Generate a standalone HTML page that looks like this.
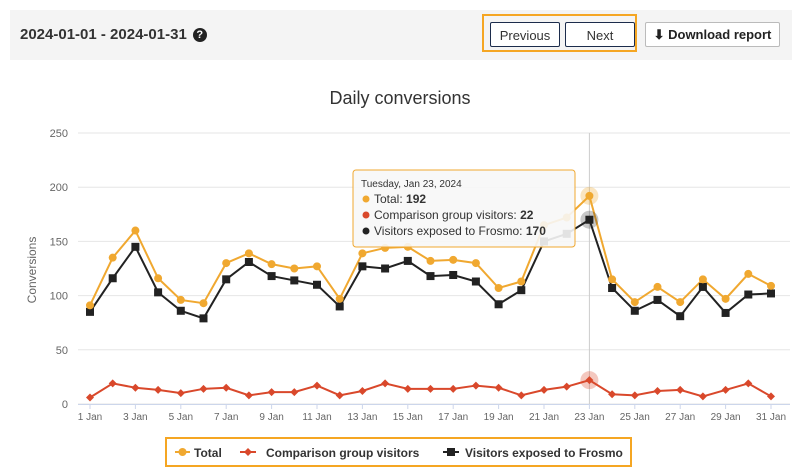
<!DOCTYPE html>
<html><head><meta charset="utf-8"><style>
body{margin:0;width:800px;height:470px;background:#fff;font-family:"Liberation Sans",sans-serif;overflow:hidden;position:relative}
.hdr{position:absolute;left:10px;top:10px;width:782px;height:50px;background:#f4f4f4}
.date{position:absolute;left:20px;top:26px;font-size:15px;font-weight:bold;color:#333}
.q{display:inline-block;width:14px;height:14px;border-radius:50%;background:#222;color:#fff;font-size:11px;text-align:center;line-height:14px;margin-left:6px;vertical-align:1px}
.ob{position:absolute;left:482px;top:14px;width:155px;height:38px;border:2px solid #f5a623;box-sizing:border-box}
.btn{position:absolute;top:22px;height:25px;border:1px solid #1c2c4c;border-radius:2px;background:#fff;font-size:13px;color:#333;text-align:center;line-height:25px;box-sizing:border-box}
.dl{position:absolute;left:645px;top:22px;width:135px;height:25px;border:1px solid #bbb;border-radius:2px;background:#fff;font-size:13px;font-weight:bold;color:#222;line-height:23px;text-align:center;box-sizing:border-box}
.title{position:absolute;left:0;width:800px;top:88px;text-align:center;font-size:18px;color:#333}
</style></head><body>
<div class="hdr"></div>
<div class="date">2024-01-01 - 2024-01-31<span class="q">?</span></div>
<div class="ob"></div>
<div class="btn" style="left:490px;width:70px">Previous</div>
<div class="btn" style="left:565px;width:70px">Next</div>
<div class="dl">⬇ Download report</div>
<div class="title">Daily conversions</div>
<svg id="s" width="800" height="470" style="position:absolute;left:0;top:0" font-family="Liberation Sans, sans-serif"></svg>
<script>
var T=[91,135,160,116,96,93,130,139,129,125,127,97,139,144,145,132,133,130,107,113,165,172,192,115,94,108,94,115,97,120,109];
var V=[85,116,145,103,86,79,115,131,118,114,110,90,127,125,132,118,119,113,92,105,150,157,170,107,86,96,81,108,84,101,102];
var C=[6,19,15,13,10,14,15,8,11,11,17,8,12,19,14,14,14,17,15,8,13,16,22,9,8,12,13,7,13,19,7];
function X(i){return 90+i*22.7}function Y(v){return 404-v*1.084}
var h='';
for(var k=0;k<=5;k++){var y=404-k*54.2;h+='<line x1="78" x2="790" y1="'+y+'" y2="'+y+'" stroke="#e6e6e6"/><text x="68" y="'+(y+4)+'" font-size="11" fill="#666" text-anchor="end">'+k*50+'</text>';}
h+='<line x1="78" x2="790" y1="404.5" y2="404.5" stroke="#ccd6eb"/>';
for(var i=0;i<31;i+=2){h+='<line x1="'+X(i)+'" x2="'+X(i)+'" y1="404" y2="409" stroke="#ccd6eb"/><text x="'+X(i)+'" y="420" font-size="10" fill="#666" text-anchor="middle">'+(i+1)+' Jan</text>';}
h+='<text transform="translate(36,270) rotate(-90)" font-size="12" fill="#666" text-anchor="middle">Conversions</text>';
h+='<line x1="'+X(22)+'" x2="'+X(22)+'" y1="133" y2="404" stroke="#ccc"/>';
function pl(d,c){return '<polyline fill="none" stroke="'+c+'" stroke-width="2" points="'+d.map(function(v,i){return X(i)+','+Y(v)}).join(' ')+'"/>';}
h+=pl(C,'#d9482b');h+=pl(V,'#222');h+=pl(T,'#f0a830');
C.forEach(function(v,i){var x=X(i),y=Y(v);h+='<path d="M'+x+' '+(y-4)+'L'+(x+4)+' '+y+'L'+x+' '+(y+4)+'L'+(x-4)+' '+y+'Z" fill="#d9482b"/>';});
V.forEach(function(v,i){h+='<rect x="'+(X(i)-4)+'" y="'+(Y(v)-4)+'" width="8" height="8" fill="#222"/>';});
T.forEach(function(v,i){h+='<circle cx="'+X(i)+'" cy="'+Y(v)+'" r="4" fill="#f0a830"/>';});
h+='<circle cx="'+X(22)+'" cy="'+Y(192)+'" r="9" fill="#f0a830" opacity="0.3"/><circle cx="'+X(22)+'" cy="'+Y(22)+'" r="9" fill="#d9482b" opacity="0.3"/><rect x="'+(X(22)-9)+'" y="'+(Y(170)-9)+'" width="18" height="18" rx="9" fill="#222" opacity="0.25"/>';
h+='<rect x="353" y="170" width="222" height="77" rx="3" fill="#f7f7f7" fill-opacity="0.9" stroke="#f0a830"/>';
h+='<text x="361" y="187" font-size="10" fill="#333">Tuesday, Jan 23, 2024</text>';
var L=[['#f0a830','Total: ','192'],['#d9482b','Comparison group visitors: ','22'],['#222','Visitors exposed to Frosmo: ','170']];
L.forEach(function(l,j){var y=203+j*16;h+='<circle cx="366" cy="'+(y-4)+'" r="3.5" fill="'+l[0]+'"/><text x="374" y="'+y+'" font-size="12" fill="#333">'+l[1]+'<tspan font-weight="bold">'+l[2]+'</tspan></text>';});
h+='<rect x="166" y="438" width="465" height="28" fill="none" stroke="#f5a623" stroke-width="2"/>';
h+='<line x1="175" x2="190" y1="452" y2="452" stroke="#f0a830" stroke-width="2"/><circle cx="182.5" cy="452" r="4" fill="#f0a830"/><text x="194" y="457" font-size="12" font-weight="bold" fill="#333">Total</text>';
h+='<line x1="240" x2="256" y1="452" y2="452" stroke="#d9482b" stroke-width="2"/><path d="M248 448L252 452L248 456L244 452Z" fill="#d9482b"/><text x="266" y="457" font-size="12" font-weight="bold" fill="#333">Comparison group visitors</text>';
h+='<line x1="443" x2="459" y1="452" y2="452" stroke="#222" stroke-width="2"/><rect x="447" y="448" width="8" height="8" fill="#222"/><text x="465" y="457" font-size="12" font-weight="bold" fill="#333">Visitors exposed to Frosmo</text>';
document.getElementById('s').innerHTML=h;
</script>
</body></html>
